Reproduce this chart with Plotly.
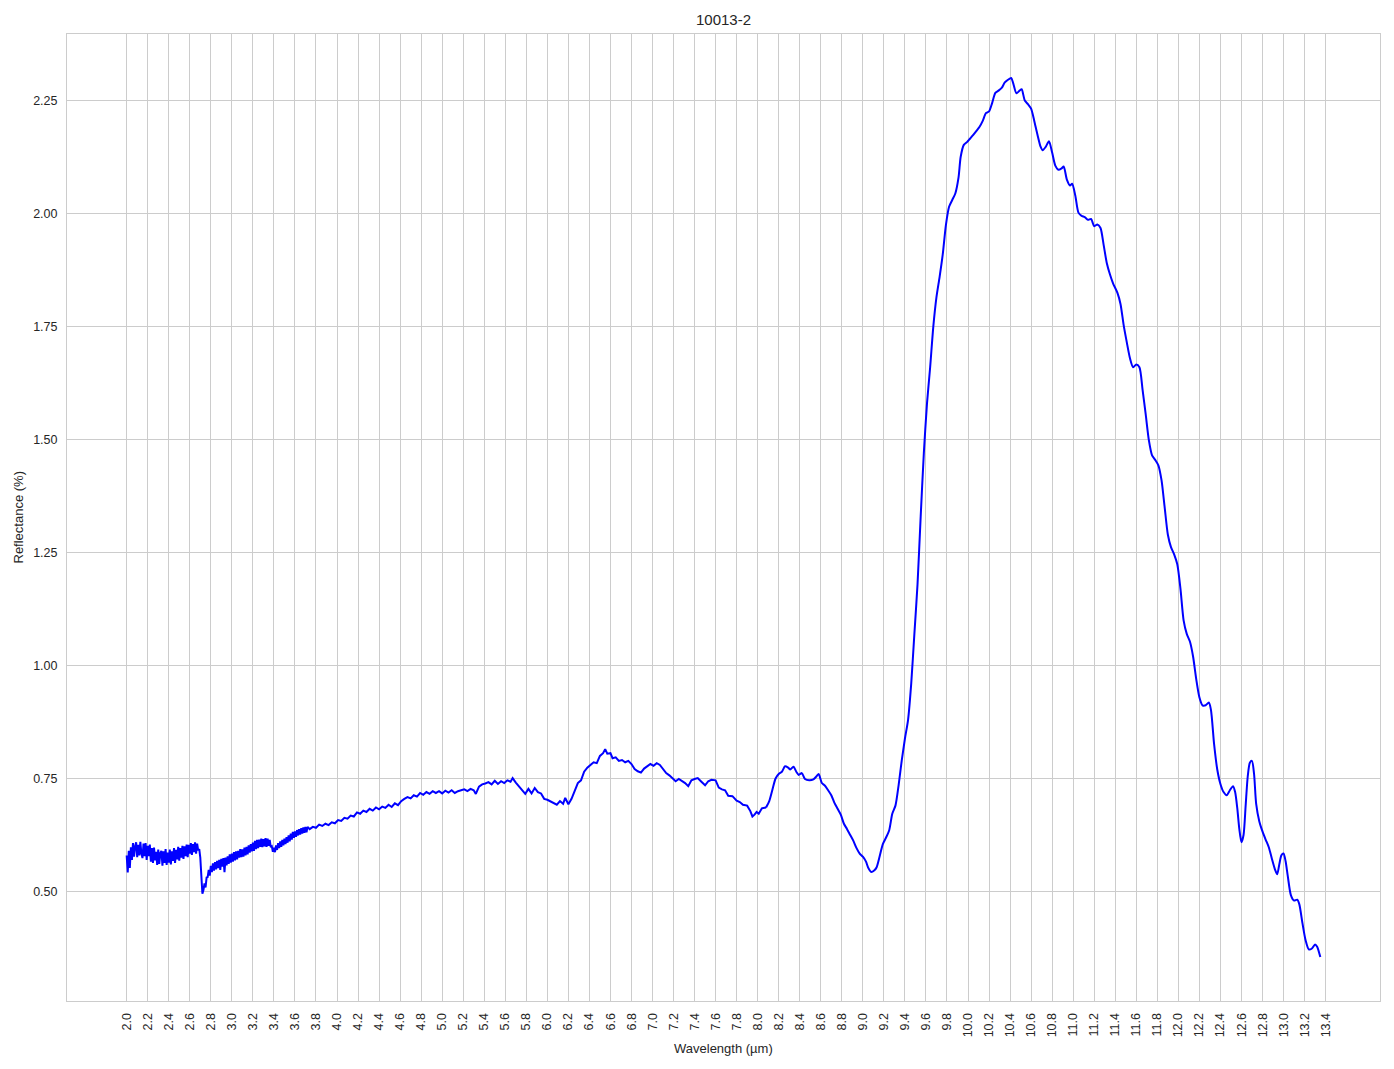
import plotly.graph_objects as go

# ---------------- data ----------------
wl_a = [2.00, 2.01, 2.02, 2.03, 2.04, 2.05, 2.06, 2.07, 2.08, 2.09,
        2.10, 2.11, 2.12, 2.13, 2.14, 2.15, 2.16, 2.17, 2.18, 2.19,
        2.20, 2.21, 2.22, 2.23, 2.24, 2.25, 2.26, 2.27, 2.28, 2.29,
        2.30, 2.31, 2.32, 2.33, 2.34, 2.35, 2.36, 2.37, 2.38, 2.39,
        2.40, 2.41, 2.42, 2.43, 2.44, 2.45, 2.46, 2.47, 2.48, 2.49,
        2.50, 2.51, 2.52, 2.53, 2.54, 2.55, 2.56, 2.57, 2.58, 2.59,
        2.60, 2.61, 2.62, 2.63, 2.64, 2.65, 2.66, 2.67, 2.68, 2.69,
        2.70]
r_a = [0.580, 0.542, 0.590, 0.552, 0.598, 0.570, 0.607, 0.577, 0.600, 0.609,
       0.576, 0.603, 0.580, 0.610, 0.584, 0.574, 0.606, 0.578, 0.607, 0.570,
       0.601, 0.578, 0.604, 0.566, 0.596, 0.563, 0.597, 0.569, 0.588, 0.559,
       0.593, 0.561, 0.585, 0.590, 0.557, 0.589, 0.563, 0.594, 0.559, 0.586,
       0.564, 0.593, 0.560, 0.589, 0.568, 0.596, 0.563, 0.592, 0.571, 0.599,
       0.568, 0.596, 0.575, 0.601, 0.572, 0.600, 0.578, 0.604, 0.576, 0.603,
       0.584, 0.607, 0.581, 0.605, 0.587, 0.609, 0.584, 0.606, 0.591, 0.594,
       0.575]

wl_b = [2.71, 2.72, 2.73, 2.74, 2.75, 2.76, 2.77, 2.78, 2.79, 2.80,
        2.81, 2.82, 2.83, 2.84, 2.85, 2.86, 2.87, 2.88, 2.89, 2.90,
        2.91, 2.92, 2.93, 2.94, 2.95, 2.96, 2.97, 2.98, 2.99, 3.00,
        3.01, 3.02, 3.03, 3.04, 3.05, 3.06, 3.07, 3.08, 3.09, 3.10,
        3.11, 3.12, 3.13, 3.14, 3.15, 3.16, 3.17, 3.18, 3.19, 3.20,
        3.21, 3.22, 3.23, 3.24, 3.25, 3.26, 3.27, 3.28, 3.29, 3.30,
        3.31, 3.32, 3.33, 3.34, 3.35, 3.36, 3.37, 3.38, 3.39, 3.40,
        3.41, 3.42, 3.43, 3.44, 3.45, 3.46, 3.47, 3.48, 3.49, 3.50,
        3.51, 3.52, 3.53, 3.54, 3.55, 3.56, 3.57, 3.58, 3.59, 3.60,
        3.61, 3.62, 3.63, 3.64, 3.65, 3.66, 3.67, 3.68, 3.69, 3.70,
        3.71, 3.72]
r_b = [0.540, 0.495, 0.503, 0.518, 0.509, 0.531, 0.532, 0.548, 0.535, 0.557,
       0.543, 0.562, 0.546, 0.565, 0.549, 0.568, 0.552, 0.570, 0.548, 0.572,
       0.555, 0.574, 0.543, 0.575, 0.558, 0.578, 0.561, 0.582, 0.564, 0.584,
       0.566, 0.587, 0.569, 0.589, 0.571, 0.590, 0.575, 0.594, 0.576, 0.593,
       0.577, 0.597, 0.580, 0.599, 0.582, 0.602, 0.586, 0.605, 0.589, 0.608,
       0.590, 0.612, 0.594, 0.614, 0.596, 0.615, 0.599, 0.617, 0.598, 0.616,
       0.600, 0.618, 0.599, 0.617, 0.601, 0.614, 0.598, 0.600, 0.588, 0.597,
       0.587, 0.602, 0.592, 0.607, 0.596, 0.611, 0.599, 0.614, 0.602, 0.617,
       0.605, 0.620, 0.608, 0.624, 0.611, 0.628, 0.615, 0.632, 0.619, 0.633,
       0.621, 0.636, 0.624, 0.638, 0.626, 0.640, 0.628, 0.642, 0.630, 0.643,
       0.631, 0.643]

wl_c = [3.74, 3.77, 3.80, 3.83, 3.86, 3.89, 3.92, 3.95, 3.98, 4.01,
        4.04, 4.07, 4.10, 4.13, 4.16, 4.19, 4.22, 4.25, 4.28, 4.31,
        4.34, 4.37, 4.40, 4.43, 4.46, 4.49, 4.52, 4.55, 4.58, 4.61,
        4.64, 4.67, 4.70, 4.73, 4.76, 4.79, 4.82, 4.85, 4.88, 4.91,
        4.94, 4.97, 5.00, 5.03, 5.06, 5.09, 5.12, 5.15, 5.18, 5.21,
        5.24, 5.27, 5.30, 5.32, 5.35, 5.38, 5.41, 5.44, 5.47, 5.50,
        5.53, 5.56, 5.59, 5.62, 5.65, 5.67, 5.70, 5.73, 5.76, 5.79,
        5.82, 5.85, 5.88, 5.91, 5.94, 5.97, 6.00, 6.03, 6.06, 6.09,
        6.12, 6.15, 6.17, 6.20, 6.23, 6.26, 6.29, 6.32, 6.35, 6.38,
        6.41, 6.44, 6.47, 6.50, 6.53, 6.55, 6.57, 6.60, 6.62, 6.65,
        6.68, 6.71, 6.74, 6.77, 6.80, 6.83, 6.86, 6.89, 6.92, 6.95,
        6.98, 7.01, 7.04, 7.07, 7.10, 7.13, 7.16, 7.19, 7.22, 7.25,
        7.28, 7.31, 7.34, 7.37, 7.40, 7.43, 7.46, 7.50, 7.53, 7.56,
        7.60, 7.63, 7.66, 7.69, 7.72, 7.76, 7.80, 7.83, 7.86, 7.90,
        7.93, 7.95, 7.97, 7.99, 8.01, 8.04, 8.08]
r_c = [0.638, 0.643, 0.641, 0.648, 0.645, 0.650, 0.647, 0.653, 0.651, 0.658,
       0.656, 0.663, 0.661, 0.668, 0.666, 0.675, 0.672, 0.679, 0.676, 0.683,
       0.679, 0.686, 0.682, 0.688, 0.685, 0.692, 0.687, 0.695, 0.691, 0.700,
       0.705, 0.709, 0.706, 0.713, 0.710, 0.718, 0.714, 0.720, 0.716, 0.722,
       0.718, 0.722, 0.717, 0.723, 0.719, 0.724, 0.718, 0.722, 0.724, 0.726,
       0.722, 0.727, 0.724, 0.716, 0.732, 0.737, 0.739, 0.742, 0.737, 0.745,
       0.738, 0.744, 0.740, 0.746, 0.743, 0.751, 0.741, 0.733, 0.724, 0.716,
       0.727, 0.717, 0.729, 0.720, 0.717, 0.705, 0.703, 0.699, 0.696, 0.692,
       0.700, 0.694, 0.707, 0.693, 0.705, 0.722, 0.740, 0.746, 0.765, 0.774,
       0.779, 0.786, 0.784, 0.800, 0.806, 0.815, 0.805, 0.806, 0.795, 0.797,
       0.789, 0.791, 0.786, 0.789, 0.782, 0.771, 0.766, 0.763, 0.772, 0.777,
       0.782, 0.778, 0.784, 0.780, 0.770, 0.762, 0.757, 0.751, 0.744, 0.749,
       0.745, 0.740, 0.733, 0.746, 0.749, 0.751, 0.744, 0.735, 0.744, 0.747,
       0.746, 0.730, 0.726, 0.724, 0.712, 0.711, 0.701, 0.698, 0.692, 0.690,
       0.678, 0.666, 0.670, 0.676, 0.672, 0.684, 0.686]

wl_d = [8.08, 8.11, 8.14, 8.17, 8.20, 8.23, 8.26, 8.29, 8.31, 8.34,
        8.37, 8.39, 8.42, 8.45, 8.49, 8.53, 8.56, 8.58, 8.61, 8.64,
        8.67, 8.70, 8.73, 8.76, 8.79, 8.82, 8.85, 8.88, 8.91, 8.94,
        8.97, 9.00, 9.03, 9.05, 9.08, 9.11, 9.13, 9.16, 9.19, 9.22,
        9.25, 9.28, 9.31, 9.34, 9.37, 9.40, 9.43, 9.46, 9.49, 9.52,
        9.55, 9.58, 9.61, 9.64, 9.67, 9.70, 9.73, 9.76, 9.79, 9.82,
        9.85, 9.88, 9.91, 9.93, 9.96, 9.99, 10.02, 10.05, 10.08, 10.11,
        10.14, 10.17, 10.20, 10.23, 10.26, 10.29, 10.32, 10.35, 10.38, 10.41,
        10.43, 10.46, 10.49, 10.51, 10.54, 10.57, 10.60, 10.63, 10.66, 10.69,
        10.71, 10.74, 10.77, 10.80, 10.83, 10.86, 10.89, 10.91, 10.94, 10.97,
        10.99, 11.02, 11.05, 11.08, 11.11, 11.14, 11.17, 11.20, 11.23, 11.26,
        11.29, 11.32, 11.35, 11.38, 11.42, 11.45, 11.48, 11.51, 11.54, 11.57,
        11.60, 11.63, 11.66, 11.69, 11.72, 11.75, 11.78, 11.81, 11.84, 11.87,
        11.90, 11.93, 11.96, 11.99, 12.02, 12.05, 12.08, 12.11, 12.14, 12.17,
        12.20, 12.23, 12.26, 12.29, 12.31, 12.34, 12.37, 12.40, 12.43, 12.46,
        12.49, 12.52, 12.54, 12.56, 12.58, 12.60, 12.62, 12.64, 12.66, 12.68,
        12.70, 12.72, 12.74, 12.77, 12.80, 12.83, 12.86, 12.89, 12.92, 12.94,
        12.96, 12.98, 13.00, 13.02, 13.04, 13.07, 13.10, 13.13, 13.15, 13.18,
        13.21, 13.24, 13.27, 13.30, 13.32, 13.35]
r_d = [0.686, 0.700, 0.725, 0.750, 0.760, 0.765, 0.777, 0.774, 0.770, 0.776,
       0.764, 0.758, 0.762, 0.749, 0.746, 0.748, 0.755, 0.760, 0.740, 0.734,
       0.724, 0.713, 0.696, 0.683, 0.670, 0.650, 0.638, 0.625, 0.612, 0.596,
       0.584, 0.577, 0.566, 0.553, 0.543, 0.547, 0.553, 0.578, 0.605, 0.619,
       0.635, 0.672, 0.690, 0.735, 0.790, 0.838, 0.880, 0.960, 1.070, 1.180,
       1.330, 1.470, 1.580, 1.660, 1.750, 1.815, 1.860, 1.910, 1.975, 2.015,
       2.030, 2.045, 2.080, 2.125, 2.152, 2.158, 2.166, 2.174, 2.183, 2.192,
       2.205, 2.222, 2.226, 2.245, 2.267, 2.272, 2.278, 2.290, 2.296, 2.300,
       2.288, 2.266, 2.272, 2.275, 2.250, 2.242, 2.232, 2.205, 2.175, 2.148,
       2.140, 2.148, 2.160, 2.135, 2.106, 2.097, 2.100, 2.104, 2.075, 2.062,
       2.066, 2.040, 2.002, 1.995, 1.992, 1.986, 1.988, 1.972, 1.976, 1.968,
       1.930, 1.890, 1.865, 1.845, 1.825, 1.800, 1.753, 1.715, 1.680, 1.660,
       1.666, 1.660, 1.610, 1.555, 1.498, 1.465, 1.455, 1.443, 1.410, 1.350,
       1.290, 1.262, 1.246, 1.224, 1.170, 1.100, 1.070, 1.053, 1.020, 0.970,
       0.930, 0.912, 0.912, 0.918, 0.902, 0.826, 0.770, 0.738, 0.720, 0.713,
       0.724, 0.733, 0.720, 0.685, 0.638, 0.609, 0.625, 0.690, 0.755, 0.785,
       0.789, 0.760, 0.694, 0.655, 0.633, 0.615, 0.598, 0.572, 0.548, 0.538,
       0.560, 0.580, 0.584, 0.567, 0.535, 0.492, 0.480, 0.482, 0.472, 0.430,
       0.392, 0.372, 0.374, 0.383, 0.378, 0.355]

x_ticks = [round(2.0 + 0.2 * i, 1) for i in range(58)]
x_tick_labels = [f"{v:.1f}" for v in x_ticks]
y_ticks = [0.50, 0.75, 1.00, 1.25, 1.50, 1.75, 2.00, 2.25]
y_tick_labels = ["0.50", "0.75", "1.00", "1.25", "1.50", "1.75", "2.00", "2.25"]

title_text = "10013-2"
x_title = "Wavelength (µm)"
y_title = "Reflectance (%)"

# ---------------- figure ----------------
W, H = 1394, 1069
ML, MR, MT, MB = 67, 14, 34, 68
PW, PH = W - ML - MR, H - MT - MB

LINE = dict(color="#0000ff", width=2)
TXT = "#262626"
GRID = "#cccccc"
FONT = "Liberation Sans, Arial, sans-serif"

fig = go.Figure()
fig.add_trace(go.Scatter(x=wl_a + wl_b + wl_c, y=r_a + r_b + r_c, mode="lines",
                         line=dict(**LINE, shape="linear"), showlegend=False,
                         hoverinfo="x+y"))
fig.add_trace(go.Scatter(x=wl_d, y=r_d, mode="lines",
                         line=dict(**LINE, shape="spline", smoothing=0.7),
                         showlegend=False, hoverinfo="x+y"))

all_x = wl_a + wl_b + wl_c + wl_d
all_y = r_a + r_b + r_c + r_d
xmin, xmax = min(all_x), max(all_x)
ymin, ymax = min(all_y), max(all_y)
xpad = (xmax - xmin) * 0.05
ypad = (ymax - ymin) * 0.05

fig.update_layout(
    width=W, height=H,
    margin=dict(l=ML, r=MR, t=MT, b=MB, autoexpand=False),
    paper_bgcolor="white", plot_bgcolor="white",
    font=dict(family=FONT, size=12.5, color=TXT),
)
fig.update_xaxes(
    range=[xmin - xpad, xmax + xpad], automargin=False,
    tickmode="array", tickvals=x_ticks, ticktext=x_tick_labels,
    tickangle=-90, tickfont=dict(size=12.5, color=TXT, family=FONT),
    showgrid=True, gridcolor=GRID, gridwidth=1, zeroline=False,
    showline=True, linecolor=GRID, linewidth=1, mirror=True,
    ticks="outside", ticklen=6, tickcolor="rgba(0,0,0,0)",
)
fig.update_yaxes(
    range=[ymin - ypad, ymax + ypad], automargin=False,
    tickmode="array", tickvals=y_ticks, ticktext=y_tick_labels,
    tickfont=dict(size=12.5, color=TXT, family=FONT),
    showgrid=True, gridcolor=GRID, gridwidth=1, zeroline=False,
    showline=True, linecolor=GRID, linewidth=1, mirror=True,
    ticks="outside", ticklen=6, tickcolor="rgba(0,0,0,0)",
)

fig.add_annotation(text=title_text, xref="paper", yref="paper",
                   x=0.5, y=1 + (MT - 20) / PH, xanchor="center", yanchor="middle",
                   showarrow=False, font=dict(size=15, color=TXT, family=FONT))
fig.add_annotation(text=x_title, xref="paper", yref="paper",
                   x=0.5, y=-(1048 - (H - MB)) / PH, xanchor="center", yanchor="middle",
                   showarrow=False, font=dict(size=13, color=TXT, family=FONT))
fig.add_annotation(text=y_title, xref="paper", yref="paper",
                   x=-(ML - 18) / PW, y=0.5, xanchor="center", yanchor="middle",
                   textangle=-90, showarrow=False,
                   font=dict(size=13, color=TXT, family=FONT))

fig.write_html("out.html", config={"displayModeBar": False},
               post_script="document.body.style.margin='0px';document.body.style.overflow='hidden';")
